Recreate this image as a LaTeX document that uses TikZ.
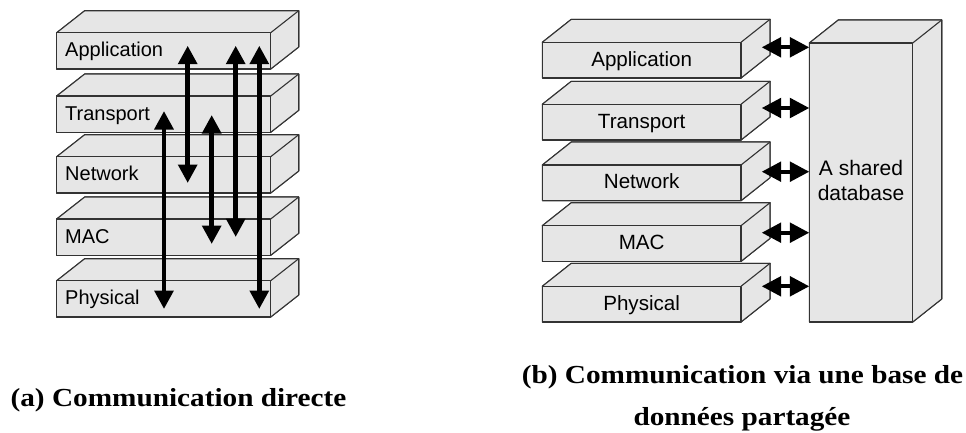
\documentclass[tikz,border=0pt]{standalone}
\usepackage{fontspec}
\setmainfont{Liberation Sans}
\newfontfamily\capfont[FakeStretch=1.125]{Liberation Serif}
\usetikzlibrary{arrows.meta}
\definecolor{slabfill}{HTML}{E6E6E6}
\definecolor{slabline}{HTML}{333333}
\tikzset{
  slabface/.style={draw=slabline,fill=slabfill,line width=1.1pt,line join=round},
  slabfront/.style={slabface,anchor=north west,inner sep=0pt,outer sep=0pt,
    text height=15.5pt,text depth=3.5pt,font=\fontsize{20}{24}\selectfont},
  vlink/.style={line width=4.7pt,{Triangle[length=18.5pt,width=18.5pt]}-{Triangle[length=18.5pt,width=18.5pt]}},
  hlink/.style={line width=4pt,{Triangle[length=19.5pt,width=19.5pt]}-{Triangle[length=19.5pt,width=19.5pt]}},
  captext/.style={font=\capfont\bfseries\fontsize{26}{30}\selectfont,anchor=base,inner sep=0pt}
}
% name, x, y top, width, height, depth dx, depth dy, text, extra node options
\newcommand{\slabbox}[9]{%
  \fill[slabface] (#2,#3) -- ++(#6,-#7) -- ++(#4,0) -- ++(-#6,#7) -- cycle;
  \fill[slabface] (#2+#4,#3) -- ++(#6,-#7) -- ++(0,#5) -- ++(-#6,#7) -- cycle;
  \draw[slabface] (#2,#3) -- ++(#6,-#7) -- ++(#4,0) -- ++(0,#5) -- ++(-#6,#7) -- ++(-#4,0) -- cycle;
  \node[slabfront,minimum width=#4 pt,minimum height=#5 pt,#9] (#1) at (#2,#3) {#8};
  \draw[slabface,fill=none] (#2+#4,#3) -- ++(#6,-#7);
}
\begin{document}
\begin{tikzpicture}[x=1pt,y=-1pt]
\useasboundingbox (0,0) rectangle (966,432);
% (a) left stack
\tikzset{lefttext/.style={align=left,text width=197pt},
  righttext/.style={font=\fontsize{20.6}{24}\selectfont}}
\slabbox{aApp}{56.7}{32.7}{214}{36.3}{28}{22}{Application}{lefttext}
\slabbox{aTra}{56.7}{96}{214}{36.3}{28}{22}{Transport}{lefttext}
\slabbox{aNet}{56.7}{156.7}{214}{36.3}{28}{22}{Network}{lefttext}
\slabbox{aMac}{56.7}{219}{214}{36.3}{28}{22}{MAC}{lefttext}
\slabbox{aPhy}{56.7}{280.7}{214}{36.3}{28}{22}{Physical}{lefttext}
\coordinate (a1t) at (164,111);   \coordinate (a1b) at (164,309);
\coordinate (a2t) at (187.7,45.7);\coordinate (a2b) at (187.7,183);
\coordinate (a3t) at (211.7,115); \coordinate (a3b) at (211.7,244);
\coordinate (a4t) at (235.7,45.7);\coordinate (a4b) at (235.7,237);
\coordinate (a5t) at (259.3,45.7);\coordinate (a5b) at (259.3,309);
\foreach \n in {1,...,5} \draw[vlink] (a\n t) -- (a\n b);
% (b) right stack
\slabbox{bApp}{542.3}{42.3}{198.7}{35.7}{29}{23}{Application}{righttext}
\slabbox{bTra}{542.3}{104.3}{198.7}{35.7}{29}{23}{Transport}{righttext}
\slabbox{bNet}{542.3}{165}{198.7}{35.7}{29}{23}{Network}{righttext}
\slabbox{bMac}{542.3}{225.7}{198.7}{35.7}{29}{23}{MAC}{righttext}
\slabbox{bPhy}{542.3}{286.3}{198.7}{35.7}{29}{23}{Physical}{righttext}
\slabbox{bDb}{809.3}{43}{103.4}{279}{29}{23}{}{}
\node[anchor=base,align=center,inner sep=0pt,font=\fontsize{21}{25}\selectfont] (bDbLabel) at (861,200) {A shared\\database};
\coordinate (bl1) at (761.7,47.3);  \coordinate (br1) at (809.3,47.3);
\coordinate (bl2) at (761.7,108);   \coordinate (br2) at (809.3,108);
\coordinate (bl3) at (761.7,171.7); \coordinate (br3) at (809.3,171.7);
\coordinate (bl4) at (761.7,232.7); \coordinate (br4) at (809.3,232.7);
\coordinate (bl5) at (761.7,286.3); \coordinate (br5) at (809.3,286.3);
\foreach \n in {1,...,5} \draw[hlink] (bl\n) -- (br\n);
% captions
\node[captext] (capA) at (178.5,406) {(a) Communication directe};
\node[captext] (capB1) at (742.5,383) {(b) Communication via une base de};
\node[captext] (capB2) at (742,425) {données partagée};
\end{tikzpicture}
\end{document}
